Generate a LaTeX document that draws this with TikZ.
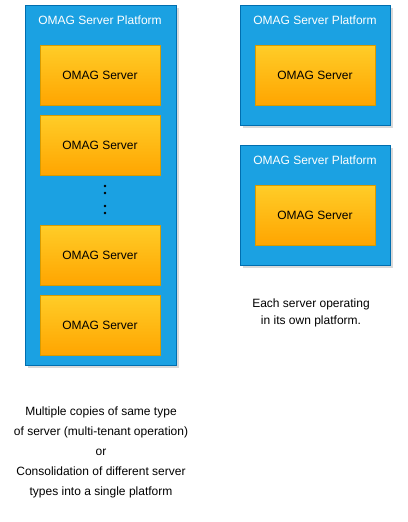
\documentclass[tikz,border=0pt]{standalone}
\usepackage{fontspec}
\setmainfont{Liberation Sans}
\usetikzlibrary{shadows}
\usepackage{xcolor}

\definecolor{platblue}{HTML}{1BA1E2}
\definecolor{platedge}{HTML}{006EAF}
\definecolor{srvtop}{HTML}{FFCD28}
\definecolor{srvbot}{HTML}{FFA500}
\definecolor{srvedge}{HTML}{D79B00}

\tikzset{
  platform/.style={draw=platedge, fill=platblue, line width=0.8pt, inner sep=0pt,
    drop shadow={opacity=0.3, shadow xshift=2.5pt, shadow yshift=-2.5pt}},
  platlabel/.style={text=white, font=\fontsize{12}{14}\selectfont},
  server/.style={draw=srvedge, top color=srvtop, bottom color=srvbot, line width=0.8pt,
    minimum width=120pt, minimum height=60pt, inner sep=0pt,
    font=\fontsize{12}{14}\selectfont},
  note/.style={align=center, font=\fontsize{12}{20}\selectfont}
}

\begin{document}
\begin{tikzpicture}[x=1pt, y=-1pt]

\useasboundingbox (0,0) rectangle (407,522);

% multi-tenant platform
\begin{scope}
{
\node[platform, minimum width=151pt, minimum height=360pt] (multi) at (100.5,185) {};
\node[platlabel] (multititle) at (100,20) {OMAG Server Platform};

\node[server] (srvA) at (100,75) {OMAG Server};
\node[server] (srvB) at (100,145) {OMAG Server};
\node[server] (srvC) at (100,255) {OMAG Server};
\node[server] (srvD) at (100,325) {OMAG Server};

\fill (105,186) circle [radius=1.3] (105,193) circle [radius=1.3];
\fill (105,206) circle [radius=1.3] (105,213) circle [radius=1.3];
}
\end{scope}

% one server per platform
\begin{scope}
{
\node[platform, minimum width=150pt, minimum height=120pt] (single1) at (315,65) {};
\node[platlabel] (single1title) at (315,20) {OMAG Server Platform};
\node[server] (srvE) at (315,75) {OMAG Server};

\node[platform, minimum width=150pt, minimum height=120pt] (single2) at (315,205) {};
\node[platlabel] (single2title) at (315,160) {OMAG Server Platform};
\node[server] (srvF) at (315,215) {OMAG Server};
}
\end{scope}

% notes
\node[note, font=\fontsize{12}{17}\selectfont] (ownnote) at (311,313) {Each server operating\\in its own platform.};

\node[note] (sharednote) at (101,452) {Multiple copies of same type\\of server (multi-tenant operation)\\or\\Consolidation of different server\\types into a single platform};

\end{tikzpicture}
\end{document}
